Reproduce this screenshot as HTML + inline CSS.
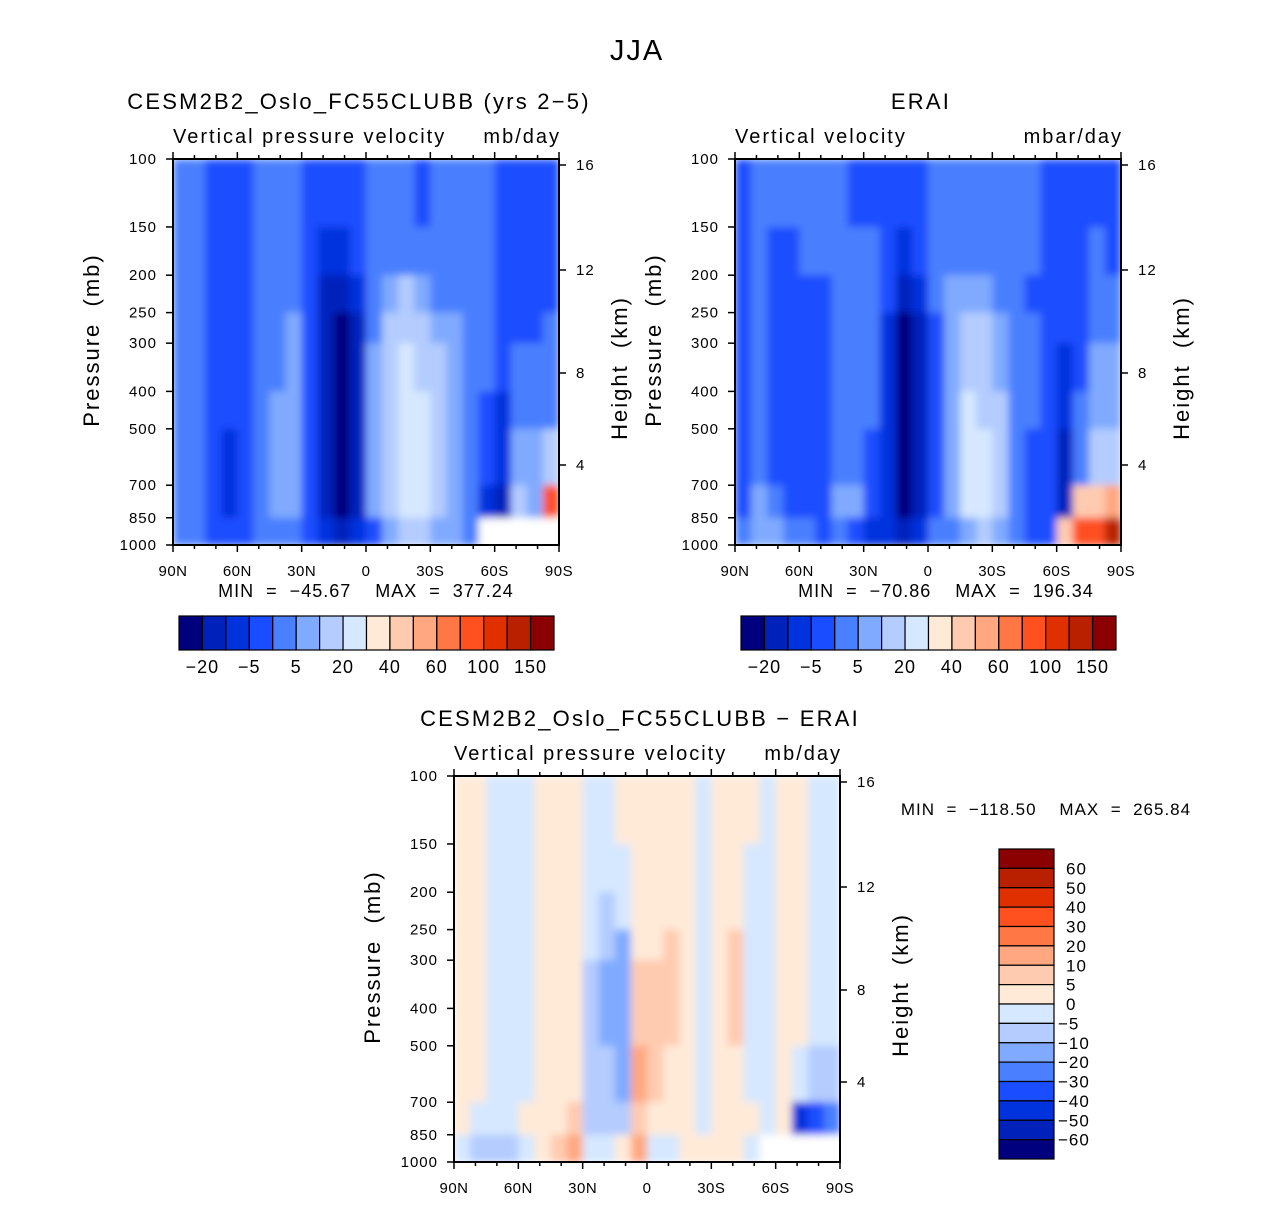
<!DOCTYPE html>
<html><head><meta charset="utf-8">
<style>
html,body{margin:0;padding:0;background:#fff;}
svg text{font-family:"Liberation Sans",sans-serif;fill:#000;white-space:pre;}
</style></head>
<body>
<svg id="fig" width="1285" height="1200" viewBox="0 0 1285 1200" xmlns="http://www.w3.org/2000/svg">
<defs>
<filter id="soft" x="0" y="0" width="1" height="1"><feGaussianBlur stdDeviation="4" edgeMode="duplicate"/></filter>
</defs>
<text x="637" y="60" font-size="29" letter-spacing="2" text-anchor="middle">JJA</text>
</svg>
<script>
// ---------- data ----------
const palette = ["#00007f","#0022bb","#0033dd","#1a4dff","#4a7fff","#80aaff","#b4ccff","#d6e8ff","#ffead8","#ffcbb0","#ffa780","#ff7744","#ff5020","#e03000","#b82000","#8b0000"];
const pressureBounds = [100,150,200,250,300,400,500,700,850,1000];
const latBounds = [90,82.5,75,67.5,60,52.5,45,37.5,30,22.5,15,7.5,0,-7.5,-15,-22.5,-30,-37.5,-45,-52.5,-60,-67.5,-75,-82.5,-90];
const pressureTicks = [100,150,200,250,300,400,500,700,850,1000];
const latTicks = [90,60,30,0,-30,-60,-90];
const latTickLabels = ["90N","60N","30N","0","30S","60S","90S"];
const heightTicks = [16,12,8,4];
const heightTickY = [165,270,373,465];
const absLabels = ["\u221220","\u22125","5","20","40","60","100","150"];
const diffLabels = ["60","50","40","30","20","10","5","0","\u22125","\u221210","\u221220","\u221230","\u221240","\u221250","\u221260"];
// level indices: each inner array is one latitude column, from 100 mb down to 1000 mb
const cesmField = [
[4,4,4,4,4,4,4,4,4],[4,4,4,4,4,4,4,4,4],[3,3,3,3,3,3,3,3,3],[3,3,3,3,3,3,2,2,3],
[3,3,3,3,3,3,3,3,3],[4,4,4,4,4,4,4,4,4],[4,4,4,4,4,5,5,5,4],[4,4,4,5,5,5,5,5,4],
[3,3,3,3,3,3,3,3,3],[3,2,1,1,1,1,1,1,2],[3,2,1,0,0,0,0,0,1],[3,3,2,1,1,1,1,1,2],
[4,4,4,4,5,5,5,5,3],[4,4,5,6,6,6,6,6,5],[4,4,6,6,7,7,7,7,6],[3,4,5,6,6,7,7,7,6],
[4,4,4,5,6,6,6,6,5],[4,4,4,5,5,5,5,5,5],[4,4,4,4,4,4,4,4,4],[4,4,4,4,4,3,3,2,-1],
[3,3,3,3,3,2,2,1,-1],[3,3,3,3,4,4,5,6,-1],[3,3,3,3,4,4,5,5,-1],[3,3,3,4,4,4,6,12,-1]];
const eraiField = [
[3,3,3,3,3,3,3,3,4],[4,4,4,4,4,4,4,5,5],[4,3,3,3,3,3,3,4,5],[4,3,3,3,3,3,3,3,4],
[4,4,3,3,3,3,3,3,4],[4,4,3,3,3,3,3,3,3],[4,4,4,4,4,4,4,5,4],[3,4,4,4,4,4,4,5,3],
[3,4,4,4,4,4,3,3,2],[3,3,3,2,2,2,2,2,2],[3,2,1,0,0,0,0,0,1],[3,3,2,1,1,1,1,1,2],
[4,4,4,3,3,3,3,3,4],[4,4,5,5,5,5,5,5,4],[4,4,5,6,6,7,7,7,5],[4,4,5,6,6,6,7,7,6],
[4,4,4,5,5,6,6,6,5],[4,4,4,4,4,4,4,4,4],[4,4,3,4,4,4,3,3,3],[3,3,3,3,3,3,3,3,3],
[3,3,3,3,2,2,1,1,9],[3,3,3,3,3,4,4,9,12],[3,4,4,4,5,5,6,9,12],[3,3,4,4,5,5,6,10,14]];
const diffField = [
[8,8,8,8,8,8,8,8,7],[8,8,8,8,8,8,8,7,6],[7,7,7,7,7,7,7,7,6],[7,7,7,7,7,7,7,7,6],
[7,7,7,7,7,7,7,8,7],[8,8,8,8,8,8,8,8,8],[8,8,8,8,8,8,8,8,9],[8,8,8,8,8,8,8,9,10],
[7,7,7,7,6,6,6,6,7],[7,7,6,6,5,5,6,6,7],[8,7,7,5,5,5,5,6,8],[8,8,8,8,9,9,10,9,10],
[8,8,8,8,9,9,9,8,7],[8,8,8,9,9,9,8,8,7],[8,8,8,8,8,8,8,8,8],[7,7,7,7,7,7,7,7,8],
[8,8,8,8,8,8,8,8,8],[8,8,8,9,9,9,8,8,8],[8,7,7,7,7,7,7,8,7],[7,7,7,7,7,7,7,7,-1],
[8,8,8,8,8,8,8,8,-1],[8,8,8,8,8,8,7,2,-1],[7,7,7,7,7,7,6,3,-1],[7,7,7,7,7,7,6,4,-1]];

const NS="http://www.w3.org/2000/svg";
const svg=document.getElementById('fig');
function mk(tag,attrs,parent){const e=document.createElementNS(NS,tag);for(const k in attrs)e.setAttribute(k,attrs[k]);(parent||svg).appendChild(e);return e;}
function txt(x,y,s,size,anchor,parent,rot,ls){const t=mk('text',{x:x,y:y,'font-size':size,'text-anchor':anchor||'start','letter-spacing':ls===undefined?1.5:ls},parent);if(rot)t.setAttribute('transform','rotate(-90 '+x+' '+y+')');t.textContent=s;return t;}

function panel(px,py,field,name,title,varL,varR){
  const W=386,H=386;
  const xs=lat=>px+(90-lat)/180*W;
  const ys=p=>py+Math.log10(p/100)*H;
  const g=mk('g',{});
  
  
  const cells=mk('g',{filter:'url(#soft)'},g);
  
  
  for(let i=0;i<field.length;i++){
    for(let j=0;j<field[i].length;j++){
      const v=field[i][j];
      const x0=xs(latBounds[i]),x1=xs(latBounds[i+1]);
      const y0=ys(pressureBounds[j]),y1=ys(pressureBounds[j+1]);
      const r=mk('rect',{x:x0,y:y0,width:x1-x0+0.6,height:y1-y0+0.6,fill:v<0?'#ffffff':palette[v]},cells);
      
      
    }
  }
  const fr=mk('rect',{x:px,y:py,width:W,height:H,fill:'none',stroke:'#000','stroke-width':2},g);
  
  
  for(let lat=90;lat>=-90;lat-=10){
    const x=xs(lat),major=lat%30===0,L=major?7:4;
    mk('line',{x1:x,y1:py+H,x2:x,y2:py+H+L,stroke:'#000','stroke-width':1.5},g);
    mk('line',{x1:x,y1:py,x2:x,y2:py-L,stroke:'#000','stroke-width':1.5},g);
  }
  latTicks.forEach((lat,i)=>{const t=txt(xs(lat),py+H+31,latTickLabels[i],15,'middle',g,false,0.5);
    
    });
  pressureTicks.forEach(p=>{const y=ys(p);
    mk('line',{x1:px,y1:y,x2:px-7,y2:y,stroke:'#000','stroke-width':1.5},g);
    const t=txt(px-16,y+5,String(p),15,'end',g,false,1);
    
    });
  heightTicks.forEach((h,i)=>{const y=py+(heightTickY[i]-159);
    mk('line',{x1:px+W,y1:y,x2:px+W+7,y2:y,stroke:'#000','stroke-width':1.5},g);
    const t=txt(px+W+17,y+5,String(h),15,'start',g,false,1);
    
    });
  const yt=txt(px-74,py+H/2-12,'Pressure  (mb)',22,'middle',g,true,2);
  
  
  const ht=txt(px+W+68,py+H/2+16,'Height  (km)',22,'middle',g,true,2);
  
  
  const tt=txt(px+W/2-7,py-50,title,22,'middle',g,false,2.2);
  
  
  const vl=txt(px,py-16,varL,20,'start',g,false,2);
  
  
  const vr=txt(px+W+2,py-16,varR,20,'end',g,false,2);
  
  
  return g;
}
function hbar(x0,y0,minmax,cx,name){
  const g=mk('g',{});
  
  
  const w=375/16;
  for(let i=0;i<16;i++){
    const r=mk('rect',{x:x0+i*w,y:y0,width:w,height:34,fill:palette[i],stroke:'#000','stroke-width':1.2},g);
    
    
  }
  absLabels.forEach((s,i)=>{const t=txt(x0+(2*i+1)*w,y0+57,s,18,'middle',g,false,1);
    
    });
  const m=txt(cx,y0-19,minmax,18,'middle',g,false,1);
  
  
}
panel(173,159,cesmField,'cesm-panel','CESM2B2_Oslo_FC55CLUBB (yrs 2\u22125)','Vertical pressure velocity','mb/day');
panel(735,159,eraiField,'erai-panel','ERAI','Vertical velocity','mbar/day');
panel(454,776,diffField,'diff-panel','CESM2B2_Oslo_FC55CLUBB \u2212 ERAI','Vertical pressure velocity','mb/day');
hbar(179,616,'MIN  =  \u221245.67    MAX  =  377.24',366,'cesm-colorbar');
hbar(741,616,'MIN  =  \u221270.86    MAX  =  196.34',946,'erai-colorbar');
const vg=mk('g',{});


const bh=310/16;
for(let i=0;i<16;i++){
  const r=mk('rect',{x:999,y:849+i*bh,width:55,height:bh,fill:palette[15-i],stroke:'#000','stroke-width':1.2},vg);
  
  
}
diffLabels.forEach((s,i)=>{const t=txt(s.startsWith('\u2212')?1058:1066,849+(i+1)*bh+6,s,17,'start',vg,false,1);
  
  });
const dm=txt(1046,815,'MIN  =  \u2212118.50    MAX  =  265.84',17,'middle',vg,false,1);


</script>
</body></html>
